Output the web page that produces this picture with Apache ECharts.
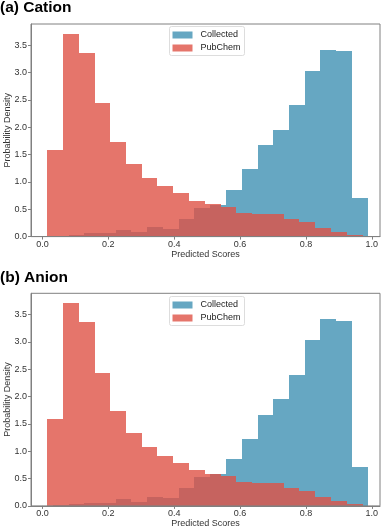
<!DOCTYPE html>
<html>
<head>
<meta charset="utf-8">
<script src="https://cdn.jsdelivr.net/npm/echarts@6/dist/echarts.min.js"></script>
<style>
  html, body { margin: 0; padding: 0; background: #fff; }
  #chart { width: 387px; height: 529px; }
</style>
</head>
<body>
<div id="chart"></div>
<script>
// bin edges (20 bins each)
const pubchemEdges = [0.014, 0.062, 0.110, 0.158, 0.206, 0.254, 0.301, 0.349, 0.397, 0.445, 0.493,
  0.541, 0.589, 0.637, 0.685, 0.733, 0.780, 0.828, 0.876, 0.924, 0.972];
const collectedEdges = [0.031, 0.079, 0.127, 0.174, 0.222, 0.270, 0.318, 0.366, 0.414, 0.461, 0.509,
  0.557, 0.605, 0.653, 0.701, 0.748, 0.796, 0.844, 0.892, 0.940, 0.988];

// (a) Cation
const cationPubchem = [1.59, 3.71, 3.36, 2.44, 1.73, 1.33, 1.08, 0.92, 0.79, 0.65,
  0.59, 0.55, 0.43, 0.41, 0.41, 0.32, 0.27, 0.16, 0.09, 0.03];
const cationCollected = [0.02, 0.03, 0.06, 0.06, 0.12, 0.08, 0.17, 0.14, 0.33, 0.53,
  0.58, 0.85, 1.23, 1.67, 1.95, 2.40, 3.03, 3.42, 3.39, 0.71];

// (b) Anion
const anionPubchem = [1.59, 3.71, 3.36, 2.44, 1.73, 1.33, 1.08, 0.92, 0.79, 0.65,
  0.59, 0.55, 0.43, 0.41, 0.41, 0.32, 0.27, 0.16, 0.09, 0.03];
const anionCollected = [0.02, 0.03, 0.06, 0.06, 0.12, 0.08, 0.17, 0.14, 0.33, 0.53,
  0.58, 0.85, 1.23, 1.67, 1.95, 2.40, 3.03, 3.42, 3.39, 0.71];

const xTicks = [0, 0.2, 0.4, 0.6, 0.8, 1.0];
const yTicks = [0, 0.5, 1.0, 1.5, 2.0, 2.5, 3.0, 3.5];
const panelTitles = ['(a) Cation', '(b) Anion'];

const font = 'Liberation Sans, Arial, Helvetica, sans-serif';
const spineColor = '#808080';
const blue = 'rgba(64,145,179,0.8)';
const red = 'rgba(222,82,70,0.8)';

function toBins(edges, values) {
  return values.map((v, i) => [edges[i], edges[i + 1], v]);
}

// 直方图的每个柱子
function histRender(color) {
  return function (params, api) {
    const p0 = api.coord([api.value(0), api.value(2)]);
    const p1 = api.coord([api.value(1), 0]);
    const x0 = Math.round(p0[0]), x1 = Math.round(p1[0]);
    const y0 = Math.round(p0[1]), y1 = Math.round(p1[1]);
    return {
      type: 'rect',
      shape: { x: x0, y: y0, width: x1 - x0, height: y1 - y0 },
      style: { fill: color }
    };
  };
}

const gridTops = [24, 293.3];
const legendTops = [26.5, 296.5];
const titleTops = [0, 269.5];
const panels = [
  { collected: cationCollected, pubchem: cationPubchem },
  { collected: anionCollected, pubchem: anionPubchem }
];

const option = {
  animation: false,
  backgroundColor: '#fff',
  textStyle: { fontFamily: font },
  title: panels.map((p, i) => ({
    text: panelTitles[i],
    left: 0,
    top: titleTops[i],
    padding: 0,
    textStyle: { fontFamily: font, fontSize: 15.5, fontWeight: 'bold', color: '#000' }
  })),
  legend: panels.map((p, i) => ({
    orient: 'vertical',
    left: 169.5,
    top: legendTops[i],
    padding: [3, 4, 2, 3],
    itemGap: 2,
    itemWidth: 20,
    itemHeight: 7,
    icon: 'rect',
    backgroundColor: '#fff',
    borderColor: '#dddddd',
    borderWidth: 1,
    borderRadius: 2,
    selectedMode: false,
    data: [
      { name: 'Collected', itemStyle: { color: blue } },
      { name: 'PubChem', itemStyle: { color: red } }
    ],
    textStyle: { fontFamily: font, fontSize: 9, color: '#222', lineHeight: 11, padding: [0, 0, 0, 3] }
  })),
  grid: panels.map((p, i) => ({
    left: 31,
    right: 7,
    top: gridTops[i],
    height: 212.6,
    containLabel: false,
    outerBoundsMode: 'none',
    show: true,
    z: 10,
    backgroundColor: 'transparent',
    borderColor: spineColor,
    borderWidth: 1
  })),
  xAxis: panels.map((p, i) => ({
    type: 'value',
    gridIndex: i,
    min: -0.035,
    max: 1.025,
    z: 10,
    name: 'Predicted Scores',
    nameLocation: 'middle',
    nameGap: 13,
    nameMoveOverlap: false,
    nameTextStyle: { fontFamily: font, fontSize: 9, color: '#333' },
    splitLine: { show: false },
    axisLine: { show: true, onZero: false, lineStyle: { color: spineColor, width: 1 } },
    axisTick: { show: true, length: 3, customValues: xTicks, lineStyle: { color: spineColor } },
    axisLabel: {
      customValues: xTicks,
      margin: 3,
      fontFamily: font,
      fontSize: 9,
      color: '#333',
      formatter: v => v.toFixed(1)
    }
  })),
  yAxis: panels.map((p, i) => ({
    type: 'value',
    gridIndex: i,
    min: 0,
    max: 3.89,
    z: 10,
    name: 'Probability Density',
    nameLocation: 'middle',
    nameGap: 19,
    nameMoveOverlap: false,
    nameTextStyle: { fontFamily: font, fontSize: 9, color: '#333' },
    splitLine: { show: false },
    axisLine: { show: true, onZero: false, lineStyle: { color: spineColor, width: 1 } },
    axisTick: { show: true, length: 3, customValues: yTicks, lineStyle: { color: spineColor } },
    axisLabel: {
      customValues: yTicks,
      margin: 4,
      fontFamily: font,
      fontSize: 9,
      color: '#333',
      formatter: v => v.toFixed(1)
    }
  })),
  series: []
};

panels.forEach((p, i) => {
  option.series.push({
    name: 'Collected',
    type: 'custom',
    xAxisIndex: i,
    yAxisIndex: i,
    itemStyle: { color: blue },
    renderItem: histRender(blue),
    encode: { x: [0, 1], y: 2 },
    data: toBins(collectedEdges, p.collected)
  });
  option.series.push({
    name: 'PubChem',
    type: 'custom',
    xAxisIndex: i,
    yAxisIndex: i,
    itemStyle: { color: red },
    renderItem: histRender(red),
    encode: { x: [0, 1], y: 2 },
    data: toBins(pubchemEdges, p.pubchem)
  });
});

var myChart = echarts.init(document.getElementById('chart'));
myChart.setOption(option);
</script>
</body>
</html>
